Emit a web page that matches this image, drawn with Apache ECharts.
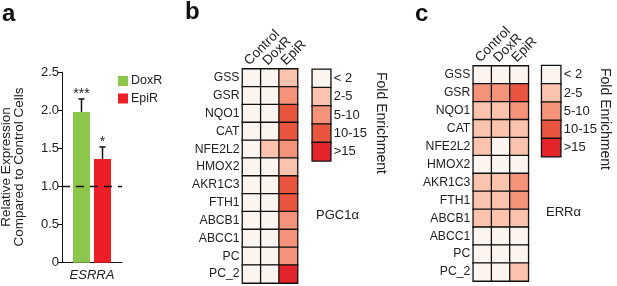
<!DOCTYPE html>
<html>
<head>
<meta charset="utf-8">
<script src="https://cdn.jsdelivr.net/npm/echarts@6/dist/echarts.min.js"></script>
<style>html,body{margin:0;padding:0;background:#fff}#main{width:617px;height:286px}</style>
</head>
<body>
<div id="main"></div>
<script>
// panel a - relative expression
var barCats = ['ESRRA'];
var doxR = [1.98];
var epiR = [1.36];
var doxErr = [2.15];
var epiErr = [1.52];
var sigMarks = ['***', '*'];
// panels b, c - fold enrichment
var conds = ['Control', 'DoxR', 'EpiR'];
var genes = ['GSS', 'GSR', 'NQO1', 'CAT', 'NFE2L2', 'HMOX2', 'AKR1C3', 'FTH1', 'ABCB1', 'ABCC1', 'PC', 'PC_2'];
// class per gene (Control, DoxR, EpiR): 0 <2, 1 2-5, 2 5-10, 3 10-15, 4 >15
var pgc1a = [[0,0,1],[0,0,2],[0,0,3],[0,0,3],[0,1,2],[0,0,1],[0,0,3],[0,0,3],[0,0,2],[0,0,2],[0,0,2],[0,0,4]];
var erra = [[0,0,0],[2,2,3],[1,1,2],[1,1,1],[1,0,1],[0,0,0],[1,1,2],[1,1,2],[1,1,1],[0,0,0],[0,0,0],[0,0,1]];
var foldBins = ['< 2', '2-5', '5-10', '10-15', '>15'];
var binColors = ['#fcf4ef', '#fac3ad', '#f4927a', '#e9553e', '#e3252b'];

var FONT = 'Liberation Sans, Arial, Helvetica, sans-serif';
var TXT = '#222';
var BAR_W = 17, BAR_GAP = 4;

//heatmap data [col,row,class]
function toCells(m){
    var out = [];
    m.forEach(function(row, i){
        row.forEach(function(v, j){ out.push([j, i, v]); });
    });
    return out;
}
var legendCells = foldBins.map(function(b, i){ return [0, i, i]; });

//error bars + stars
function errItem(params, api){
    var idx = api.value(2);
    var top = api.coord([api.value(0), api.value(1)]);
    var base = api.coord([api.value(0), api.value(3)]);
    var x = top[0] + (idx - 0.5) * (BAR_W + BAR_GAP);
    var st = {stroke: '#111', lineWidth: 1.5};
    return {type: 'group', children: [
        {type: 'line', shape: {x1: x, y1: base[1], x2: x, y2: top[1]}, style: st},
        {type: 'line', shape: {x1: x - 3, y1: top[1], x2: x + 3, y2: top[1]}, style: st},
        {type: 'text', x: x, y: top[1] - 12, style: {text: sigMarks[idx], align: 'center', verticalAlign: 'top', font: '14px ' + FONT, fill: TXT}}
    ]};
}

function heatX(gi){
    return {type: 'category', gridIndex: gi, data: conds, position: 'top',
        axisLine: {show: false}, axisTick: {show: false},
        axisLabel: {rotate: -45, interval: 0, margin: 1, verticalAlign: 'bottom',
            fontSize: 13.5, color: TXT, fontFamily: FONT}};
}
function heatY(gi){
    return {type: 'category', gridIndex: gi, data: genes, inverse: true,
        axisLine: {show: false}, axisTick: {show: false},
        axisLabel: {margin: 3, fontSize: 12.2, color: TXT, fontFamily: FONT}};
}
function keyX(gi){
    return {type: 'category', gridIndex: gi, data: ['k'], show: false};
}
function keyY(gi){
    return {type: 'category', gridIndex: gi, data: foldBins, inverse: true, position: 'right',
        axisLine: {show: false}, axisTick: {show: false},
        axisLabel: {margin: 3, fontSize: 13, color: TXT, fontFamily: FONT}};
}
function heatSeries(xi, data){
    return {type: 'heatmap', xAxisIndex: xi, yAxisIndex: xi, data: data,
        itemStyle: {borderColor: '#111', borderWidth: 1.3},
        emphasis: {disabled: true}, silent: true};
}

var myChart = echarts.init(document.getElementById('main'));
var option = {
    animation: false,
    textStyle: {fontFamily: FONT},
    grid: [
        {left: 62, top: 72.3, width: 60, height: 190.4},
        {left: 242.5, top: 69, width: 55, height: 214},
        {left: 473.3, top: 66, width: 55, height: 215},
        {left: 312.3, top: 69.3, width: 18.4, height: 91.5},
        {left: 541.7, top: 65.7, width: 19, height: 91}
    ],
    legend: {
        data: ['DoxR', 'EpiR'], icon: 'rect', itemWidth: 10, itemHeight: 10,
        orient: 'vertical', left: 118, top: 74.5, itemGap: 4.5, padding: 0,
        textStyle: {fontSize: 12.5, color: TXT, fontFamily: FONT, padding: [0, 0, 0, -2]}
    },
    xAxis: [
        {type: 'category', gridIndex: 0, data: barCats,
            axisLine: {lineStyle: {color: '#111', width: 1}}, axisTick: {show: false},
            axisLabel: {fontSize: 13, fontStyle: 'italic', color: TXT, margin: 6, fontFamily: FONT}},
        heatX(1), heatX(2), keyX(3), keyX(4)
    ],
    yAxis: [
        {type: 'value', gridIndex: 0, min: 0, max: 2.5, interval: 0.5,
            axisLine: {show: true, lineStyle: {color: '#111', width: 1}},
            axisTick: {show: true, length: 4, lineStyle: {color: '#111'}},
            splitLine: {show: false},
            axisLabel: {fontSize: 13, color: TXT, margin: 3, fontFamily: FONT,
                formatter: function(v){ return v === 0 ? '0' : v.toFixed(1); }}},
        heatY(1), heatY(2), keyY(3), keyY(4)
    ],
    visualMap: {
        type: 'piecewise', show: false, dimension: 2, seriesIndex: [3, 4, 5, 6],
        pieces: binColors.map(function(c, i){ return {value: i, color: c}; })
    },
    series: [
        {name: 'DoxR', type: 'bar', xAxisIndex: 0, yAxisIndex: 0, data: doxR,
            barWidth: BAR_W, barGap: (BAR_GAP / BAR_W * 100) + '%', itemStyle: {color: '#8cc64a'},
            markLine: {silent: true, symbol: 'none', label: {show: false},
                lineStyle: {color: '#111', type: [8, 6], width: 1.3}, data: [{yAxis: 1}]}},
        {name: 'EpiR', type: 'bar', xAxisIndex: 0, yAxisIndex: 0, data: epiR,
            barWidth: BAR_W, itemStyle: {color: '#ec1f26'}},
        {type: 'custom', xAxisIndex: 0, yAxisIndex: 0, renderItem: errItem, silent: true, z: 5,
            data: [[0, doxErr[0], 0, doxR[0]], [0, epiErr[0], 1, epiR[0]]]},
        heatSeries(1, toCells(pgc1a)),
        heatSeries(2, toCells(erra)),
        heatSeries(3, legendCells),
        heatSeries(4, legendCells)
    ],
    graphic: [
        {type: 'text', x: 2, y: 2, style: {text: 'a', font: 'bold 24px ' + FONT, fill: '#111'}},
        {type: 'text', x: 185, y: 0, style: {text: 'b', font: 'bold 24px ' + FONT, fill: '#111'}},
        {type: 'text', x: 415, y: 2, style: {text: 'c', font: 'bold 24px ' + FONT, fill: '#111'}},
        {type: 'text', x: 6, y: 167, rotation: Math.PI / 2,
            style: {text: 'Relative Expression', align: 'center', verticalAlign: 'middle', font: '13.5px ' + FONT, fill: TXT}},
        {type: 'text', x: 19, y: 167, rotation: Math.PI / 2,
            style: {text: 'Compared to Control Cells', align: 'center', verticalAlign: 'middle', font: '13.5px ' + FONT, fill: TXT}},
        {type: 'text', x: 381, y: 123, rotation: -Math.PI / 2,
            style: {text: 'Fold Enrichment', align: 'center', verticalAlign: 'middle', font: '14px ' + FONT, fill: TXT}},
        {type: 'text', x: 605, y: 119, rotation: -Math.PI / 2,
            style: {text: 'Fold Enrichment', align: 'center', verticalAlign: 'middle', font: '14px ' + FONT, fill: TXT}},
        {type: 'text', x: 316, y: 215, style: {text: 'PGC1α', verticalAlign: 'middle', font: '13px ' + FONT, fill: TXT}},
        {type: 'text', x: 546, y: 212, style: {text: 'ERRα', verticalAlign: 'middle', font: '13px ' + FONT, fill: TXT}}
    ]
};
myChart.setOption(option);
</script>
</body>
</html>
